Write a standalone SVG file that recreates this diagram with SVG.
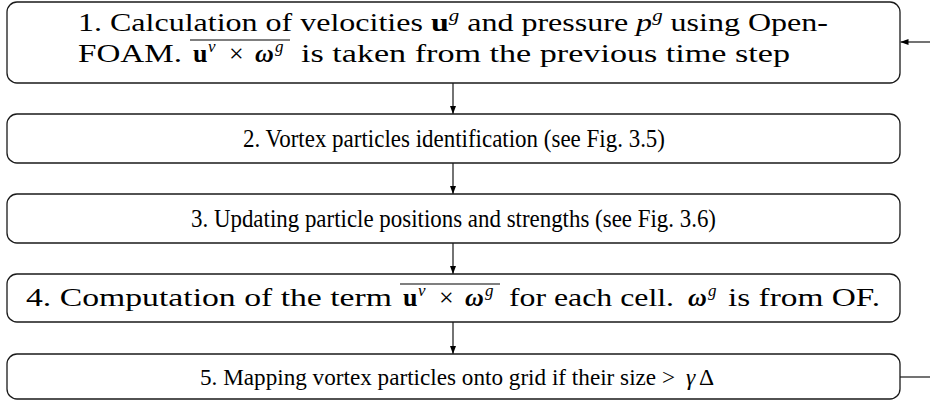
<svg xmlns="http://www.w3.org/2000/svg" width="930" height="403" viewBox="0 0 930 403">
<style>
.box{fill:#ffffff;stroke:#1a1a1a;stroke-width:1.3}
.t{font-family:"Liberation Serif","DejaVu Serif",serif;font-size:26px;fill:#000}
.b{font-weight:bold}
.i{font-style:italic}
.s{font-size:17px;font-style:italic}
.m{font-size:23.5px}
.c{stroke:#000;stroke-width:1.1;fill:none}
.ov{stroke:#000;stroke-width:1.2}
</style>
<defs>
<marker id="ah" markerUnits="userSpaceOnUse" markerWidth="8" markerHeight="6" refX="8" refY="3" orient="auto">
<path d="M0,0 L8,3 L0,6 z" fill="#000"/>
</marker>
</defs>
<rect width="930" height="403" fill="#fff"/>
<g id="connectors">
<line class="c" x1="453" y1="83" x2="453" y2="114" marker-end="url(#ah)"/>
<line class="c" x1="453" y1="163" x2="453" y2="194" marker-end="url(#ah)"/>
<line class="c" x1="453" y1="243" x2="453" y2="274" marker-end="url(#ah)"/>
<line class="c" x1="453" y1="322" x2="453" y2="354" marker-end="url(#ah)"/>
<line class="c" x1="930" y1="42" x2="900.5" y2="42" marker-end="url(#ah)"/>
<line class="c" x1="900" y1="377" x2="930" y2="377"/>
</g>
<g id="node1">
<rect class="box" x="7" y="2" width="893" height="81" rx="10"/>
<text class="t" x="78" y="31" textLength="750" lengthAdjust="spacingAndGlyphs">1.  Calculation of velocities <tspan class="b">u</tspan><tspan class="s" dy="-10">g</tspan><tspan dy="10"> and pressure </tspan><tspan class="i">p</tspan><tspan class="s" dy="-10">g</tspan><tspan dy="10"> using Open-</tspan></text>
<text class="t" x="78" y="62" textLength="104" lengthAdjust="spacingAndGlyphs">FOAM.</text>
<text class="t" y="62"><tspan class="b" x="193">u</tspan><tspan class="s" x="208" dy="-10">v</tspan><tspan x="229" dy="10">×</tspan><tspan class="b i" x="255">ω</tspan><tspan class="s" x="275" dy="-10">g</tspan></text>
<line class="ov" x1="190" y1="40" x2="290" y2="40"/>
<text class="t" x="301" y="62" textLength="489" lengthAdjust="spacingAndGlyphs">is taken from the previous time step</text>
</g>
<g id="node2">
<rect class="box" x="7" y="114" width="893" height="49" rx="10"/>
<text class="t" x="243" y="147" textLength="422" lengthAdjust="spacingAndGlyphs">2.  Vortex particles identification (see Fig.  3.5)</text>
</g>
<g id="node3">
<rect class="box" x="7" y="194" width="893" height="49" rx="10"/>
<text class="t" x="191" y="227" textLength="525" lengthAdjust="spacingAndGlyphs">3.  Updating particle positions and strengths (see Fig.  3.6)</text>
</g>
<g id="node4">
<rect class="box" x="7" y="274" width="893" height="48" rx="10"/>
<text class="t" x="26" y="306" textLength="366" lengthAdjust="spacingAndGlyphs">4.  Computation of the term</text>
<text class="t" y="306"><tspan class="b" x="403">u</tspan><tspan class="s" x="418" dy="-10">v</tspan><tspan x="439" dy="10">×</tspan><tspan class="b i" x="465">ω</tspan><tspan class="s" x="485" dy="-10">g</tspan></text>
<line class="ov" x1="400" y1="284" x2="500" y2="284"/>
<text class="t" x="509" y="306" textLength="165" lengthAdjust="spacingAndGlyphs">for each cell.</text>
<text class="t" y="306"><tspan class="b i" x="688">ω</tspan><tspan class="s" x="708" dy="-10">g</tspan></text>
<text class="t" x="728" y="306" textLength="152" lengthAdjust="spacingAndGlyphs">is from OF.</text>
</g>
<g id="node5">
<rect class="box" x="7" y="354" width="893" height="45" rx="10"/>
<text class="t m" x="200" y="385" textLength="475" lengthAdjust="spacingAndGlyphs">5.  Mapping vortex particles onto grid if their size &gt;</text>
<text class="t m i" x="686" y="385">γ</text>
<text class="t m" x="699" y="385">Δ</text>
</g>
</svg>
